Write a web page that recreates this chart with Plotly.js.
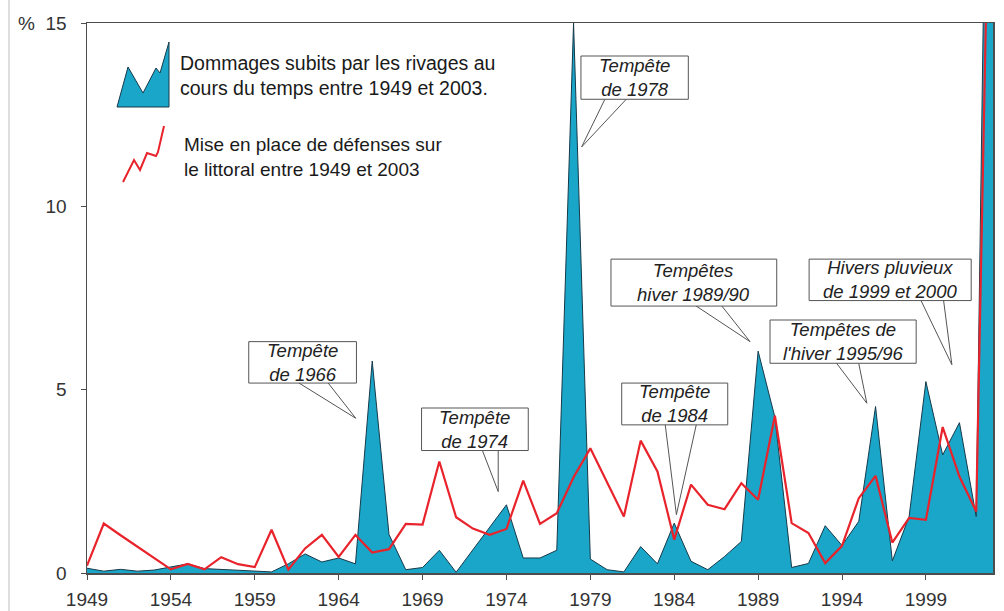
<!DOCTYPE html>
<html>
<head>
<meta charset="utf-8">
<script src="https://cdn.plot.ly/plotly-3.0.1.min.js"></script>
<style>html,body{margin:0;padding:0;background:#fff;}#chart{width:1004px;height:611px;}</style>
</head>
<body>
<div id="chart"></div>
<script>
// ---- data ----
const years = [1949,1950,1951,1952,1953,1954,1955,1956,1957,1958,1959,1960,1961,1962,1963,1964,1965,1966,1967,1968,1969,1970,1971,1972,1973,1974,1975,1976,1977,1978,1979,1980,1981,1982,1983,1984,1985,1986,1987,1988,1989,1990,1991,1992,1993,1994,1995,1996,1997,1998,1999,2000,2001,2002,2003];
const damages = [0.13,0.05,0.10,0.05,0.08,0.17,0.25,0.12,0.10,0.07,0.04,0.03,0.25,0.52,0.30,0.41,0.25,5.78,1.05,0.09,0.15,0.62,0.02,0.63,1.25,1.86,0.41,0.41,0.62,15.0,0.38,0.09,0.03,0.72,0.25,1.36,0.32,0.09,0.45,0.86,6.05,4.25,0.15,0.26,1.29,0.75,1.41,4.54,0.33,1.54,5.22,3.22,4.10,1.54,34];
const defenses = [0.20,1.35,1.03,0.72,0.40,0.10,0.25,0.10,0.43,0.24,0.16,1.18,0.09,0.67,1.04,0.44,1.04,0.56,0.65,1.34,1.32,3.04,1.52,1.21,1.04,1.20,2.52,1.34,1.63,2.61,3.40,2.47,1.54,3.61,2.77,0.91,2.41,1.86,1.74,2.45,2.00,4.29,1.36,1.09,0.27,0.74,2.04,2.65,0.83,1.50,1.45,3.98,2.63,1.68,25];
const xTickVals = [1949,1954,1959,1964,1969,1974,1979,1984,1989,1994,1999];
const yTickVals = [0,5,10,15];
const yTickText = ['0','5','10','%  15'];
const legendDamages = ['Dommages subits par les rivages au','cours du temps entre 1949 et 2003.'];
const legendDefenses = ['Mise en place de défenses sur','le littoral entre 1949 et 2003'];
// callouts: text lines, box [x0,x1,y0,y1] in data units, tail base [xL,xR], tip [x,y]
const callouts = [
  {lines:['Tempête','de 1966'], box:[1958.64,1965.06,5.18,6.31], base:[1961.44,1963.28], tip:[1965.02,4.22]},
  {lines:['Tempête','de 1974'], box:[1968.94,1975.30,3.34,4.50], base:[1972.52,1973.51], tip:[1973.51,2.22]},
  {lines:['Tempête','de 1978'], box:[1978.44,1984.84,12.92,14.10], base:[1979.93,1981.26], tip:[1978.48,11.62]},
  {lines:['Tempêtes','hiver 1989/90'], box:[1980.23,1990.11,7.28,8.56], base:[1985.10,1986.73], tip:[1988.52,6.31]},
  {lines:['Tempête','de 1984'], box:[1980.87,1987.19,4.04,5.18], base:[1983.45,1985.34], tip:[1984.13,1.59]},
  {lines:['Tempêtes de','l\'hiver 1995/96'], box:[1989.71,1998.42,5.72,6.90], base:[1993.58,1994.97], tip:[1995.48,4.63]},
  {lines:['Hivers pluvieux','de 1999 et 2000'], box:[1992.04,2001.70,7.43,8.56], base:[1998.65,2000.04], tip:[2000.55,5.68]}
];

// ---- styles ----
const FONT = 'Liberation Sans, Arial, sans-serif';
const BLUE = '#19a6c9';
const RED = '#e8232b';
const AXIS = '#4d4d4d';
const M = {l:87, r:11, t:23, b:38};
const W = 1004, H = 611;
const PW = W - M.l - M.r, PH = H - M.t - M.b;
const PX = x => (x - M.l) / PW;           // page pixel -> paper x
const PY = y => (H - M.b - y) / PH;        // page pixel -> paper y

const traces = [
  {x: years, y: damages, type:'scatter', mode:'lines', fill:'tozeroy',
   fillcolor: BLUE, line:{color:'#163a4a', width:1}, hoverinfo:'skip', showlegend:false},
  {x: years, y: defenses, type:'scatter', mode:'lines',
   line:{color: RED, width:2.2}, hoverinfo:'skip', showlegend:false}
];

const shapes = [];
const annotations = [];

// faint page border line at left
shapes.push({type:'line', xref:'paper', yref:'paper', x0:PX(9), x1:PX(9), y0:PY(611), y1:PY(0),
  line:{color:'#d4d4d4', width:1.5}, layer:'above'});

// legend icons
const bluePts = [[117,107],[128,67],[143,93],[156,68],[160,73],[169,42],[169,107]];
shapes.push({type:'path', xref:'paper', yref:'paper',
  path: 'M ' + bluePts.map(p => PX(p[0]) + ',' + PY(p[1])).join(' L ') + ' Z',
  fillcolor: BLUE, line:{color:'#163a4a', width:1}, layer:'above'});
const redPts = [[123,182],[134,160],[140,170],[147,153],[156,156],[158,152],[164,126]];
shapes.push({type:'path', xref:'paper', yref:'paper',
  path: 'M ' + redPts.map(p => PX(p[0]) + ',' + PY(p[1])).join(' L '),
  line:{color: RED, width:2}, layer:'above'});

annotations.push({text:legendDamages.join('<br>'), xref:'paper', yref:'paper',
  x:PX(178), y:PY(75), xanchor:'left', yanchor:'middle', align:'left', showarrow:false,
  font:{family:FONT, size:19.5, color:'#1a1a1a'}});
annotations.push({text:legendDefenses.join('<br>'), xref:'paper', yref:'paper',
  x:PX(182), y:PY(157), xanchor:'left', yanchor:'middle', align:'left', showarrow:false,
  font:{family:FONT, size:19, color:'#1a1a1a'}});

// callouts
callouts.forEach(c => {
  const [x0,x1,y0,y1] = c.box;
  const yIn = y0 + 0.05*(y1-y0);
  shapes.push({type:'path', xref:'x', yref:'y',
    path:`M ${c.base[0]},${yIn} L ${c.tip[0]},${c.tip[1]} L ${c.base[1]},${yIn} Z`,
    fillcolor:'#ffffff', line:{color:'#555', width:1}, layer:'above'});
  shapes.push({type:'rect', xref:'x', yref:'y', x0:x0, x1:x1, y0:y0, y1:y1,
    fillcolor:'#ffffff', line:{color:'#555', width:1}, layer:'above'});
  annotations.push({text:'<i>'+c.lines.join('<br>')+'</i>', xref:'x', yref:'y',
    x:(x0+x1)/2, y:(y0+y1)/2, xanchor:'center', yanchor:'middle', align:'center',
    showarrow:false, font:{family:FONT, size:18.5, color:'#222'}});
});

const axisCommon = {showgrid:false, zeroline:false, showline:true, mirror:true,
  linecolor:AXIS, linewidth:1.5, ticks:'outside', ticklen:5, tickcolor:AXIS, tickwidth:1,
  tickfont:{family:FONT, size:19, color:'#333'}, fixedrange:true};

const layout = {
  width:W, height:H, margin:M, paper_bgcolor:'#ffffff', plot_bgcolor:'#ffffff',
  showlegend:false,
  xaxis: Object.assign({}, axisCommon, {range:[1949,2003], tickmode:'array', tickvals:xTickVals,
    ticktext: xTickVals.map(String), ticklabelstandoff:4}),
  yaxis: Object.assign({}, axisCommon, {range:[0,15], tickmode:'array', tickvals:yTickVals,
    ticktext:yTickText, ticklabelstandoff:10}),
  shapes: shapes,
  annotations: annotations
};

Plotly.newPlot('chart', traces, layout, {displayModeBar:false, staticPlot:true});
</script>
</body>
</html>
